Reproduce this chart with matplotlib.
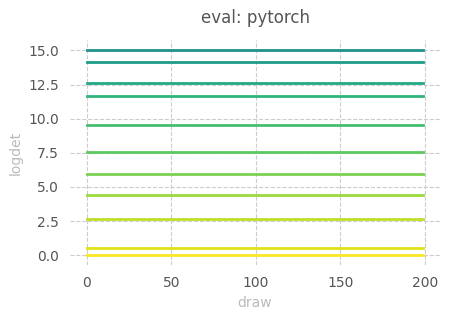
import matplotlib
matplotlib.use("Agg")
import matplotlib.pyplot as plt
import numpy as np

# logdet level of each run, bottom to top
levels = [0.02, 0.52, 2.65, 4.42, 5.93, 7.58, 9.55, 11.68, 12.62, 14.12, 15.02]
n_draws = 200
xticks = [0, 50, 100, 150, 200]
yticks = [0.0, 2.5, 5.0, 7.5, 10.0, 12.5, 15.0]

fig = plt.figure(figsize=(4.49, 3.19), dpi=100)
ax = fig.add_axes([0.156, 0.169, 0.824, 0.706])

draws = np.arange(n_draws)
cols = plt.cm.viridis(np.linspace(1.0, 0.5, len(levels)))
for lv, c in zip(levels, cols):
    ax.plot(draws, np.full(n_draws, lv), color=c, lw=2.0)

ax.set_xticks(xticks)
ax.set_yticks(yticks)
ax.set_yticklabels([f"{t:.1f}" for t in yticks])
ax.grid(True, ls="--", color="#cccccc", lw=0.8)
ax.set_axisbelow(True)
for s in ax.spines.values():
    s.set_visible(False)
ax.tick_params(length=0, colors="#555555", labelsize=10, pad=8)
ax.set_xlabel("draw", color="#bbbbbb", fontsize=10)
ax.set_ylabel("logdet", color="#bbbbbb", fontsize=10)
ax.set_title("eval: pytorch", color="#555555", fontsize=12, pad=12)

fig.savefig("out.png", dpi=100)
